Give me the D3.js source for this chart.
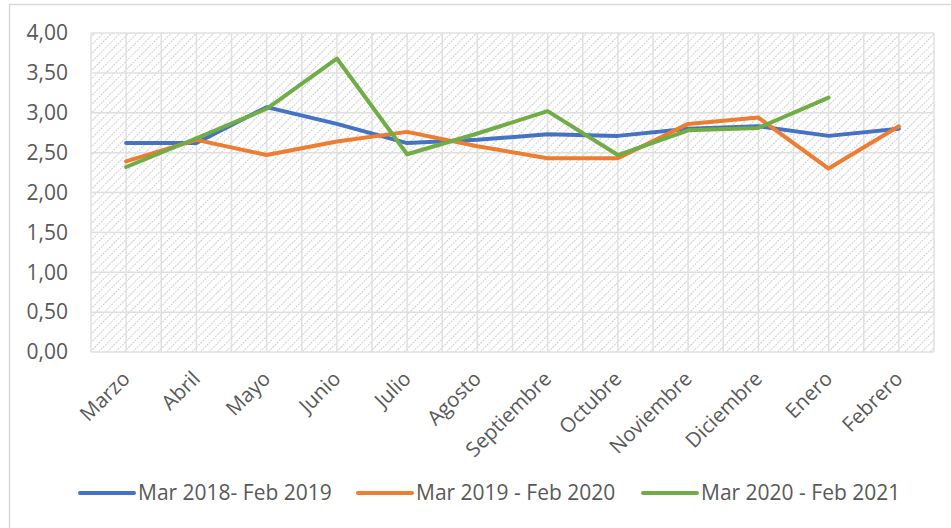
<!doctype html>
<html>
<head>
  <meta charset="utf-8">
  <title>Line chart</title>
  <script src="https://cdnjs.cloudflare.com/ajax/libs/d3/7.8.5/d3.min.js"></script>
  <style>
    body { margin: 0; background: #fff; }
    text { font-family: "Open Sans", sans-serif; fill: #595959; }
  </style>
</head>
<body>
  <div id="chart"></div>
  <script>
    // data
    const months = ['Marzo', 'Abril', 'Mayo', 'Junio', 'Julio', 'Agosto', 'Septiembre',
                    'Octubre', 'Noviembre', 'Diciembre', 'Enero', 'Febrero'];
    const seriesNames = ['Mar 2018- Feb 2019', 'Mar 2019 - Feb 2020', 'Mar 2020 - Feb 2021'];
    const s2018 = [2.62, 2.62, 3.07, 2.86, 2.62, 2.66, 2.73, 2.71, 2.80, 2.83, 2.71, 2.80];
    const s2019 = [2.39, 2.66, 2.47, 2.64, 2.76, 2.58, 2.43, 2.43, 2.86, 2.94, 2.30, 2.83];
    const s2020 = [2.32, 2.68, 3.05, 3.68, 2.48, 2.74, 3.02, 2.47, 2.78, 2.81, 3.19, null];
    const colors = ['#4472C4', '#ED7D31', '#70AD47'];
    const yTicks = [0, 0.5, 1, 1.5, 2, 2.5, 3, 3.5, 4];

    const W = 951, H = 528;
    const plotL = 91, plotR = 934, plotT = 33, plotB = 352;

    const svg = d3.select('#chart').append('svg')
      .attr('width', W).attr('height', H);

    // hatch fill for the plot area
    const pat = svg.append('defs').append('pattern')
      .attr('id', 'hatch')
      .attr('patternUnits', 'userSpaceOnUse')
      .attr('width', 6).attr('height', 6)
      .attr('patternTransform', 'rotate(45)');
    pat.append('line')
      .attr('x1', 0).attr('y1', 0).attr('x2', 0).attr('y2', 6)
      .attr('stroke', '#cfcfcf').attr('stroke-width', 2)
      .attr('stroke-dasharray', '2,1');

    // chart border
    svg.append('rect')
      .attr('x', 9.5).attr('y', 4.5).attr('width', 1100).attr('height', 600)
      .attr('fill', 'none').attr('stroke', '#d9d9d9').attr('stroke-width', 1.5);

    const x = d3.scaleBand().domain(months).range([plotL, plotR]);
    const y = d3.scaleLinear().domain([0, 4]).range([plotB, plotT]);

    svg.append('rect')
      .attr('x', plotL).attr('y', plotT)
      .attr('width', plotR - plotL).attr('height', plotB - plotT)
      .attr('fill', 'url(#hatch)');

    // gridlines: horizontal at each tick, vertical at band edges and centres
    const grid = svg.append('g').attr('stroke', '#e0e0e0').attr('stroke-width', 1.5);
    grid.selectAll('.h').data(yTicks).join('line')
      .attr('x1', plotL).attr('x2', plotR)
      .attr('y1', d => y(d)).attr('y2', d => y(d));
    const vx = [];
    months.forEach(m => { vx.push(x(m)); vx.push(x(m) + x.bandwidth() / 2); });
    vx.push(plotR);
    grid.selectAll('.v').data(vx).join('line')
      .attr('x1', d => d).attr('x2', d => d)
      .attr('y1', plotT).attr('y2', plotB);

    // y axis labels
    svg.append('g').selectAll('text').data(yTicks).join('text')
      .attr('x', 68).attr('y', d => y(d))
      .attr('dy', '0.35em')
      .attr('text-anchor', 'end')
      .style('font-size', '21px')
      .text(d => d.toFixed(2).replace('.', ','));

    // category labels
    svg.append('g').selectAll('text').data(months).join('text')
      .attr('text-anchor', 'end')
      .style('font-size', '20.5px')
      .attr('transform', d => `translate(${x(d) + x.bandwidth() / 2 + 5},${380}) rotate(-45)`)
      .text(d => d);

    // lines
    const line = d3.line()
      .defined(d => d != null)
      .x((d, i) => x(months[i]) + x.bandwidth() / 2)
      .y(d => y(d));
    [s2018, s2019, s2020].forEach((s, i) => {
      svg.append('path')
        .datum(s)
        .attr('d', line)
        .attr('fill', 'none')
        .attr('stroke', colors[i])
        .attr('stroke-width', 4)
        .attr('stroke-linejoin', 'round')
        .attr('stroke-linecap', 'round');
    });

    // legend
    const legX = [80, 358, 643];
    const leg = svg.append('g').selectAll('g').data(seriesNames).join('g')
      .attr('transform', (d, i) => `translate(${legX[i]},493)`);
    leg.append('line')
      .attr('x1', 0).attr('x2', 54).attr('y1', 0).attr('y2', 0)
      .attr('stroke', (d, i) => colors[i]).attr('stroke-width', 4)
      .attr('stroke-linecap', 'round');
    leg.append('text')
      .attr('x', 58).attr('dy', '0.35em')
      .style('font-size', '21px')
      .text(d => d);
  </script>
</body>
</html>
